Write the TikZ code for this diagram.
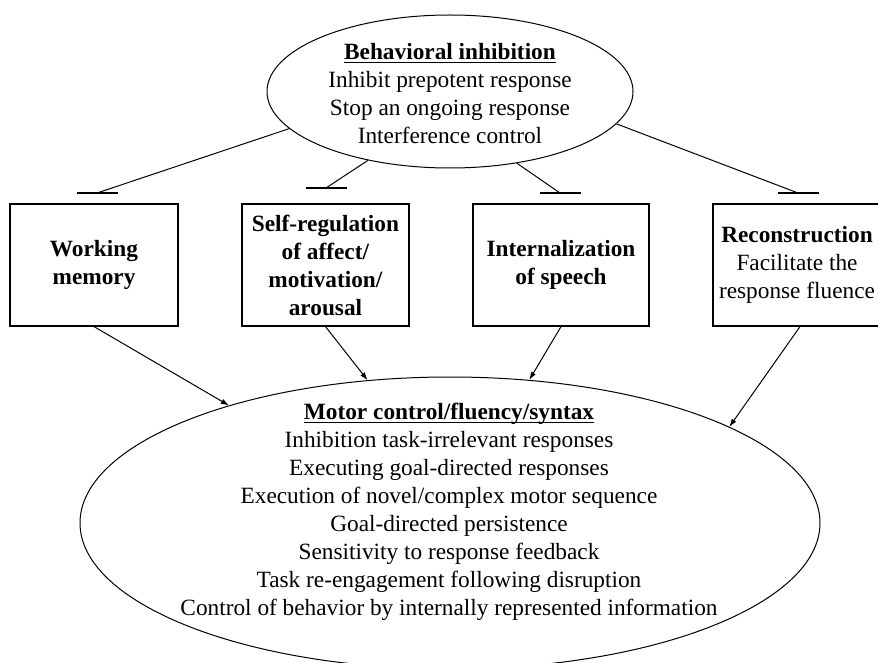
\documentclass[tikz,border=0pt]{standalone}
\usepackage{fontspec}
\setmainfont{Liberation Serif}
\usetikzlibrary{arrows.meta,shapes.geometric}
\newcommand\myul[1]{\setbox0\hbox{#1}\rlap{\rule[-3pt]{\wd0}{1.1pt}}\box0}
\begin{document}
\begin{tikzpicture}[x=1pt,y=-1pt,
  txt/.style={font=\fontsize{23.3}{28}\selectfont, align=center, inner sep=0pt},
  oval/.style={draw, ellipse, line width=1pt, inner sep=0pt},
  box/.style={draw, line width=1.2pt, inner sep=0pt, font=\fontsize{23.3}{28}\selectfont, align=center},
  link/.style={line width=1pt},
  tee/.style={line width=1.4pt},
  arr/.style={line width=1pt, -{Latex[length=8pt,width=5.5pt]}}]
\useasboundingbox (0,0) rectangle (878,663);
\fill[white] (0,0) rectangle (878,663);
\clip (0,0) rectangle (878,663);
% top ellipse
\node[oval, minimum width=366pt, minimum height=153pt] (top) at (450,91.5) {};
\node[txt] (toptxt) at (450,94) {\myul{\textbf{Behavioral inhibition}}\\Inhibit prepotent response\\Stop an ongoing response\\Interference control};
% boxes
\node[box, minimum width=168pt, minimum height=122pt] (wm) at (94,265) {\textbf{Working}\\\textbf{memory}};
\node[box, minimum width=167pt, minimum height=122pt] (sr) at (325.5,265) {\textbf{Self-regulation}\\\textbf{of affect/}\\\textbf{motivation/}\\\textbf{arousal}};
\node[box, minimum width=176pt, minimum height=122pt] (is) at (561,265) {\textbf{Internalization}\\\textbf{of speech}};
\node[box, minimum width=168pt, minimum height=122pt] (rc) at (797,265) {\textbf{Reconstruction}\\Facilitate the\\response fluence};
% bottom ellipse
\node[oval, minimum width=740pt, minimum height=292pt] (bot) at (450,523) {};
\node[txt] (bottxt) at (449,512) {\myul{\textbf{Motor control/fluency/syntax}}\\Inhibition task-irrelevant responses\\Executing goal-directed responses\\Execution of novel/complex motor sequence\\Goal-directed persistence\\Sensitivity to response feedback\\Task re-engagement following disruption\\Control of behavior by internally represented information};
% inhibition connectors
\coordinate (t1) at (97,193);
\coordinate (t2) at (326,188);
\coordinate (t3) at (560,193);
\coordinate (t4) at (798,193);
\draw[link] (top.193) -- (t1);
\draw[link] (top.220.3) -- (t2);
\draw[link] (top.313.6) -- (t3);
\draw[link] (top.349.4) -- (t4);
\draw[tee] ([xshift=-20.5pt]t1) -- ([xshift=20.5pt]t1);
\draw[tee] ([xshift=-20.5pt]t2) -- ([xshift=20.5pt]t2);
\draw[tee] ([xshift=-20.5pt]t3) -- ([xshift=20.5pt]t3);
\draw[tee] ([xshift=-20.5pt]t4) -- ([xshift=20.5pt]t4);
% arrows to bottom
\draw[arr] (wm.south) -- (bot.152.4);
\draw[arr] (sr.south) -- (bot.120.7);
\draw[arr] (is.south) -- (bot.61.9);
\draw[arr] ([xshift=3pt]rc.south) -- (bot.19.5);
\end{tikzpicture}
\end{document}
